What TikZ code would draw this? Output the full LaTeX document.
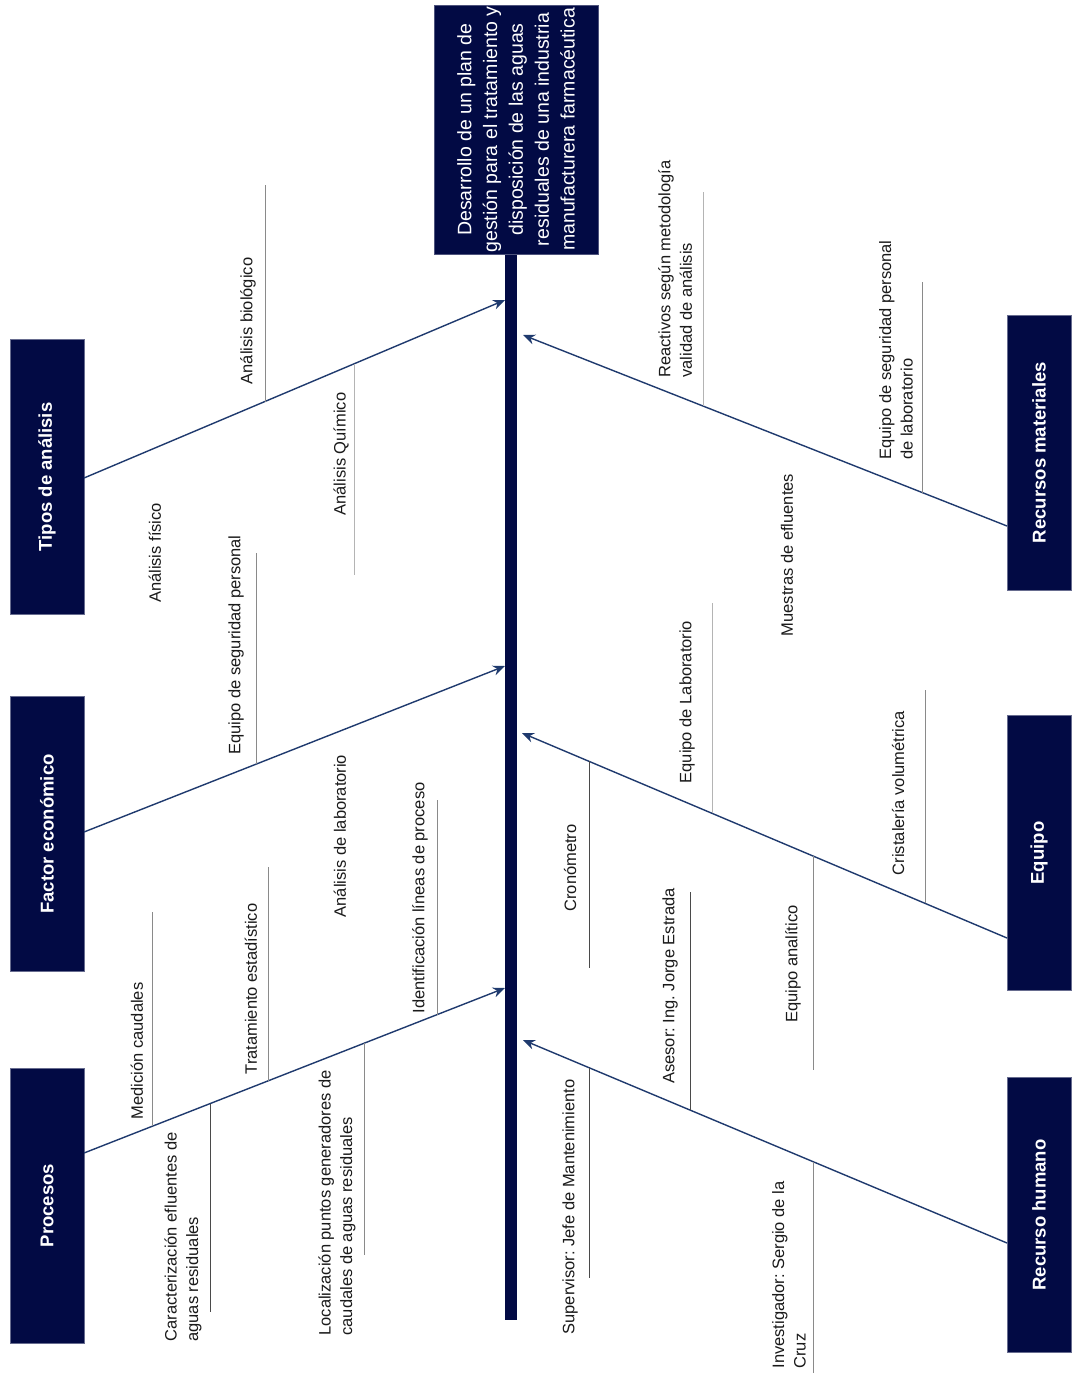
\documentclass[tikz,border=0pt]{standalone}
\usepackage{fontspec}
\setmainfont{Liberation Sans}
\frenchspacing
\usetikzlibrary{arrows.meta}
\definecolor{navy}{HTML}{020A44}
\definecolor{arrowc}{HTML}{1F3A6E}
\definecolor{glight}{HTML}{B4B4B4}
\definecolor{gmid}{HTML}{8A8A8A}
\definecolor{gdark}{HTML}{4A4A4A}
\definecolor{txt}{HTML}{1A1A1A}
\tikzset{
  headbox/.style={rotate=90, fill=navy, draw=navy!70!white, line width=0.8pt,
    minimum width=249pt, minimum height=164pt, inner sep=0pt, align=center,
    text=white, font=\fontsize{19.5}{25.8}\selectfont},
  catbox/.style={rotate=90, fill=navy, draw=navy!60!white, line width=0.8pt,
    minimum width=275pt, minimum height=74pt, inner sep=0pt,
    text=white, font=\fontsize{18.5}{22}\selectfont\bfseries},
  catboxr/.style={catbox, minimum height=64pt},
  spinebar/.style={fill=navy, draw=none, minimum width=12pt, minimum height=1066pt, inner sep=0pt},
  arr/.style={draw=arrowc, line width=1.4pt, -{Stealth[length=12pt,width=10pt]}},
  lbl/.style={rotate=90, inner sep=0pt, align=left, text=txt,
    font=\fontsize{16.5}{21.5}\selectfont},
  sublight/.style={draw=glight, line width=1pt},
  submid/.style={draw=gmid, line width=1pt},
  subdark/.style={draw=gdark, line width=1pt}
}
\begin{document}
\begin{tikzpicture}[x=1pt,y=-1pt]
\useasboundingbox[fill=white] (0,0) rectangle (1071,1373);

% spine and head
\node[spinebar] (spine) at (511,787) {};
\node[headbox] (head) at (516,129.5) {Desarrollo de un plan de\\gestión para el tratamiento y\\disposición de las aguas\\residuales de una industria\\manufacturera farmacéutica};

% category boxes
\node[catbox] (tipos) at (47,477) {Tipos de análisis};
\node[catbox] (factor) at (47,834) {Factor económico};
\node[catbox] (procesos) at (47,1205.5) {Procesos};
\node[catboxr] (recursos) at (1039,452.5) {Recursos materiales};
\node[catboxr] (equipo) at (1039,853) {Equipo};
\node[catboxr] (humano) at (1039,1215) {Recurso humano};

% arrow ends
\coordinate (tS) at (84,478);   \coordinate (tT) at (505,300);
\coordinate (fS) at (84,832);   \coordinate (fT) at (505,666);
\coordinate (pS) at (84,1153);  \coordinate (pT) at (505,988);
\coordinate (rS) at (1007,526); \coordinate (rT) at (523,335);
\coordinate (eS) at (1007,938); \coordinate (eT) at (522,733);
\coordinate (hS) at (1007,1243);\coordinate (hT) at (523,1040);

\draw[arr] (tS) -- (tT);
\draw[arr] (fS) -- (fT);
\draw[arr] (pS) -- (pT);
\draw[arr] (rS) -- (rT);
\draw[arr] (eS) -- (eT);
\draw[arr] (hS) -- (hT);

% sub-cause lines
\draw[submid]   (265,401.5) -- (265,185);
\draw[sublight] (354,363.8) -- (354,575);
\draw[submid]   (256,764.2) -- (256,553);
\draw[submid]   (437,1014.7) -- (437,800);
\draw[submid]   (268,1080.9) -- (268,867);
\draw[submid]   (152,1126.4) -- (152,912);
\draw[subdark]  (210,1103.6) -- (210,1312);
\draw[submid]   (364,1043.3) -- (364,1255);
\draw[sublight] (703,406) -- (703,192);
\draw[submid]   (922,492.5) -- (922,282);
\draw[subdark]  (589,761.3) -- (589,968);
\draw[sublight] (712,813.3) -- (712,603);
\draw[submid]   (925,903.3) -- (925,690);
\draw[submid]   (813,856) -- (813,1070);
\draw[subdark]  (589,1067.7) -- (589,1278);
\draw[subdark]  (690,1110) -- (690,892);
\draw[submid]   (813,1161.6) -- (813,1373);

% labels
\node[lbl] (l1) at (248,321) {Análisis biológico};
\node[lbl] (l2) at (341,454) {Análisis Químico};
\node[lbl] (l3) at (155,553) {Análisis físico};
\node[lbl] (l4) at (236,645) {Equipo de seguridad personal};
\node[lbl] (l5) at (340,836) {Análisis de laboratorio};
\node[lbl] (l6) at (420,898) {Identificación líneas de proceso};
\node[lbl] (l7) at (251,989) {Tratamiento estadístico};
\node[lbl] (l8) at (137,1051) {Medición caudales};
\node[lbl] (l9) at (183,1237) {Caracterización efluentes de\\aguas residuales};
\node[lbl] (l10) at (337,1203) {Localización puntos generadores de\\caudales de aguas residuales};
\node[lbl] (r1) at (675,269) {Reactivos según metodología\\validad de análisis};
\node[lbl] (r2) at (896,350) {Equipo de seguridad personal\\de laboratorio};
\node[lbl] (r3) at (787,555) {Muestras de efluentes};
\node[lbl] (r4) at (687,702) {Equipo de Laboratorio};
\node[lbl] (r5) at (898,793) {Cristalería volumétrica};
\node[lbl] (r6) at (570,868) {Cronómetro};
\node[lbl] (r7) at (793,964) {Equipo analítico};
\node[lbl] (r8) at (670,986) {Asesor: Ing. Jorge Estrada};
\node[lbl] (r9) at (570,1207) {Supervisor: Jefe de Mantenimiento};
\node[lbl] (r10) at (789,1275) {Investigador: Sergio de la\\Cruz};
\end{tikzpicture}
\end{document}
